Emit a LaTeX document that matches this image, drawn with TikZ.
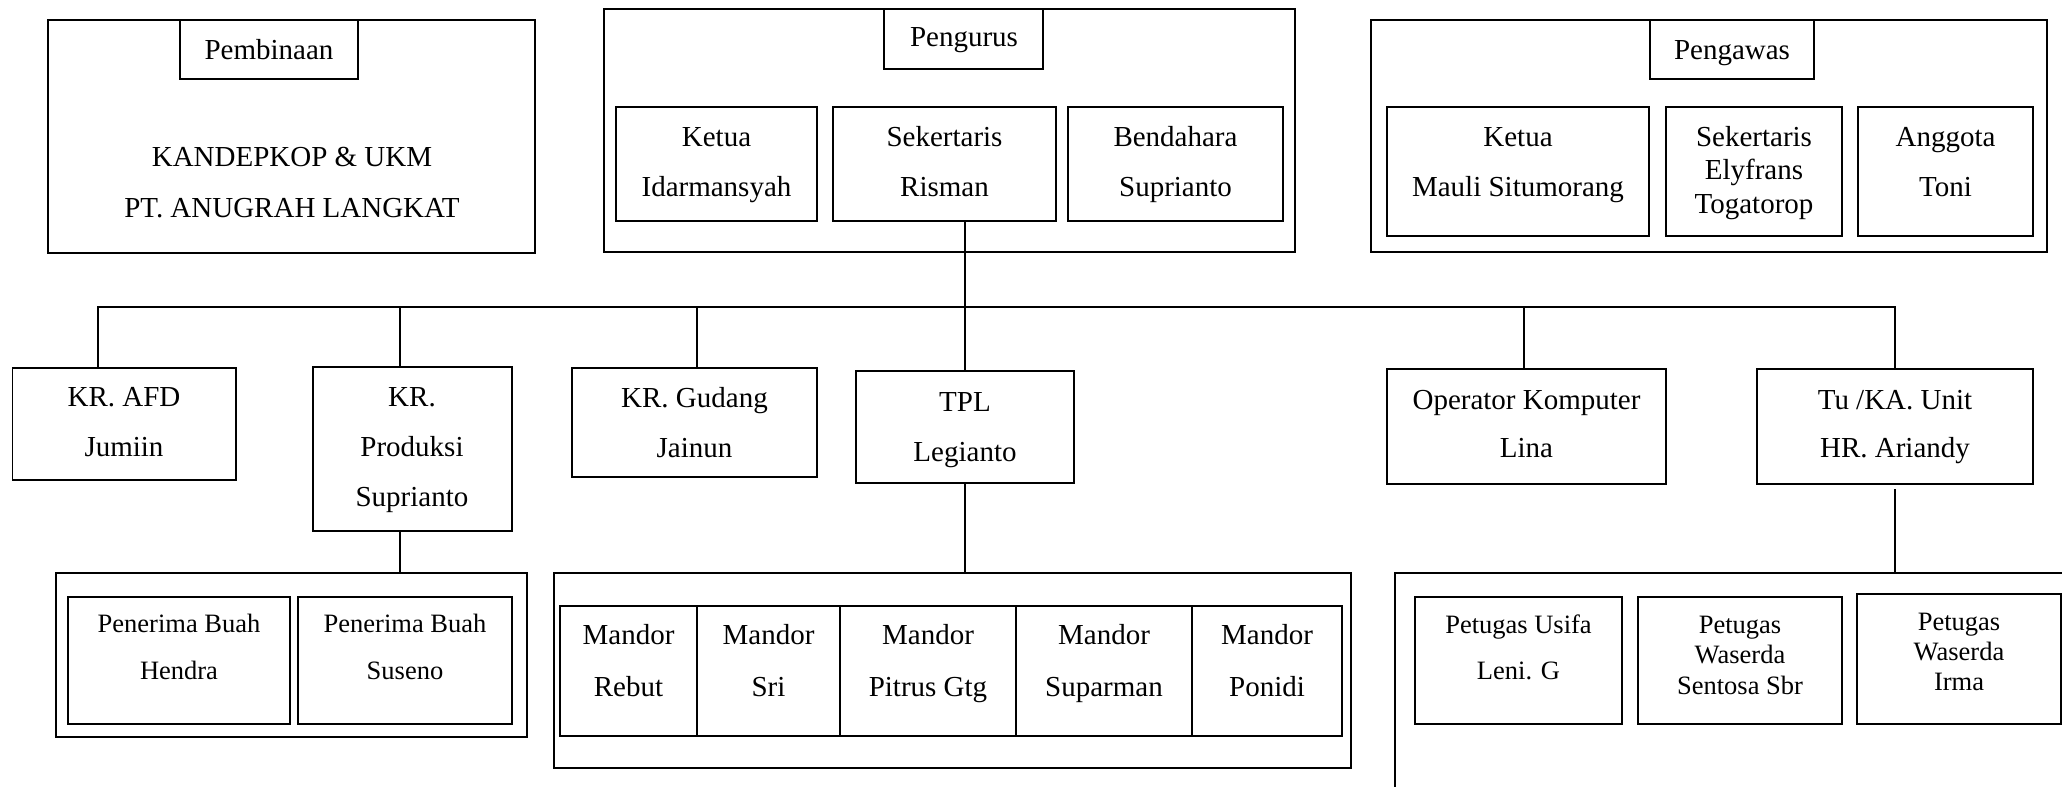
\documentclass[tikz,border=0pt]{standalone}
\usepackage{fontspec}
\setmainfont{Liberation Serif}
\usetikzlibrary{fit}
\newcommand\bx[5]{\node[box, fit={(#2,#3)(#4,#5)}] (#1) {};}
\newcommand\tx[4]{\node[txt] (#1) at (#2,#3) {#4};}
\newcommand\ts[4]{\node[txts] (#1) at (#2,#3) {#4};}
\begin{document}
\begin{tikzpicture}[x=1pt,y=-1pt,line width=1.8pt,
  box/.style={draw, inner sep=0pt, line width=1.8pt},
  txt/.style={inner sep=0pt, font=\fontsize{29}{34}\selectfont, text height=19.2pt, text depth=0pt},
  txts/.style={inner sep=0pt, font=\fontsize{26.5}{31}\selectfont, text height=17.5pt, text depth=0pt},
  conn/.style={line width=1.8pt, line cap=rect}]
\useasboundingbox (0,0) rectangle (2062,787);
\clip (0,0) rectangle (2062,787);
% --- top groups
\bx{pemb}{48}{20}{535}{253}
\bx{pembL}{180}{20}{358}{79}
\tx{tPemb}{269}{50}{Pembinaan}
\tx{tKand}{292}{157}{KANDEPKOP \& UKM}
\tx{tPT}{292}{208}{PT. ANUGRAH LANGKAT}

\bx{peng}{604}{9}{1295}{252}
\bx{pengL}{884}{9}{1043}{69}
\tx{tPeng}{964}{37}{Pengurus}
\bx{pgKetua}{616}{107}{817}{221}
\tx{tpg1a}{716.5}{137}{Ketua}
\tx{tpg1b}{716.5}{187}{Idarmansyah}
\bx{pgSek}{833}{107}{1056}{221}
\tx{tpg2a}{944.5}{137}{Sekertaris}
\tx{tpg2b}{944.5}{187}{Risman}
\bx{pgBend}{1068}{107}{1283}{221}
\tx{tpg3a}{1175.5}{137}{Bendahara}
\tx{tpg3b}{1175.5}{187}{Suprianto}

\bx{pw}{1371}{20}{2047}{252}
\bx{pwL}{1650}{20}{1814}{79}
\tx{tPw}{1732}{50}{Pengawas}
\bx{pwKetua}{1387}{107}{1649}{236}
\tx{tpw1a}{1518}{137}{Ketua}
\tx{tpw1b}{1518}{187}{Mauli Situmorang}
\bx{pwSek}{1666}{107}{1842}{236}
\tx{tpw2a}{1754}{137}{Sekertaris}
\tx{tpw2b}{1754}{170}{Elyfrans}
\tx{tpw2c}{1754}{204}{Togatorop}
\bx{pwAng}{1858}{107}{2033}{236}
\tx{tpw3a}{1945.5}{137}{Anggota}
\tx{tpw3b}{1945.5}{187}{Toni}
% --- second row
\bx{afd}{12.5}{368}{236}{480}
\tx{tafd1}{124}{397}{KR. AFD}
\tx{tafd2}{124}{447}{Jumiin}
\bx{prod}{313}{367}{512}{531}
\tx{tprod1}{412}{397}{KR.}
\tx{tprod2}{412}{447}{Produksi}
\tx{tprod3}{412}{497}{Suprianto}
\bx{gud}{572}{368}{817}{477}
\tx{tgud1}{694.5}{398}{KR. Gudang}
\tx{tgud2}{694.5}{448}{Jainun}
\bx{tpl}{856}{371}{1074}{483}
\tx{ttpl1}{965}{402}{TPL}
\tx{ttpl2}{965}{452}{Legianto}
\bx{op}{1387}{369}{1666}{484}
\tx{top1}{1526.5}{400}{Operator Komputer}
\tx{top2}{1526.5}{448}{Lina}
\bx{tu}{1757}{369}{2033}{484}
\tx{ttu1}{1895}{400}{Tu /KA. Unit}
\tx{ttu2}{1895}{448}{HR. Ariandy}
% --- third row
\bx{pen}{56}{573}{527}{737}
\bx{pen1}{68}{597}{290}{724}
\ts{tpen1a}{179}{624}{Penerima Buah}
\ts{tpen1b}{179}{671}{Hendra}
\bx{pen2}{298}{597}{512}{724}
\ts{tpen2a}{405}{624}{Penerima Buah}
\ts{tpen2b}{405}{671}{Suseno}

\bx{man}{554}{573}{1351}{768}
\bx{m1}{560}{606}{697}{736}
\bx{m2}{697}{606}{840}{736}
\bx{m3}{840}{606}{1016}{736}
\bx{m4}{1016}{606}{1192}{736}
\bx{m5}{1192}{606}{1342}{736}
\tx{tm1a}{628.5}{635}{Mandor}
\tx{tm1b}{628.5}{687}{Rebut}
\tx{tm2a}{768.5}{635}{Mandor}
\tx{tm2b}{768.5}{687}{Sri}
\tx{tm3a}{928}{635}{Mandor}
\tx{tm3b}{928}{687}{Pitrus Gtg}
\tx{tm4a}{1104}{635}{Mandor}
\tx{tm4b}{1104}{687}{Suparman}
\tx{tm5a}{1267}{635}{Mandor}
\tx{tm5b}{1267}{687}{Ponidi}

\bx{pet}{1395}{573}{2120}{840}
\bx{pet1}{1415}{597}{1622}{724}
\ts{tpet1a}{1518.5}{625}{Petugas Usifa}
\ts{tpet1b}{1518.5}{671}{Leni. G}
\bx{pet2}{1638}{597}{1842}{724}
\ts{tpet2a}{1740}{625}{Petugas}
\ts{tpet2b}{1740}{655}{Waserda}
\ts{tpet2c}{1740}{686}{Sentosa Sbr}
\bx{pet3}{1857}{594}{2061}{724}
\ts{tpet3a}{1959}{622}{Petugas}
\ts{tpet3b}{1959}{652}{Waserda}
\ts{tpet3c}{1959}{682}{Irma}
% --- connectors
\coordinate (bL) at (98,307);
\coordinate (cP) at (400,307);
\coordinate (cG) at (697,307);
\coordinate (cO) at (1524,307);
\draw[conn] (bL) -- (tu.north |- bL);
\draw[conn] (bL) -- (bL |- afd.north);
\draw[conn] (cP) -- (cP |- prod.north);
\draw[conn] (cP |- prod.south) -- (cP |- pen.north);
\draw[conn] (cG) -- (cG |- gud.north);
\draw[conn] (tpl.north |- pgSek.south) -- (tpl.north);
\draw[conn] (tpl.south) -- (tpl.south |- man.north);
\draw[conn] (cO) -- (cO |- op.north);
\draw[conn] (tu.north |- bL) -- (tu.north);
\draw[conn] ([yshift=-5pt]tu.south) -- (tu.south |- pet.north);
\end{tikzpicture}
\end{document}
